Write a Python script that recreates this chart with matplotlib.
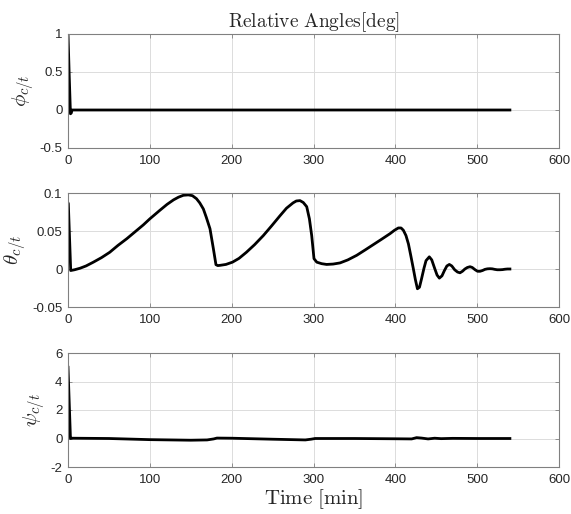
import matplotlib
matplotlib.use("Agg")
import matplotlib.pyplot as plt

# ---- data ----
t_phi = [0, 1.5, 3, 4, 5, 8, 100, 200, 300, 400, 540]
phi = [1.0, 0.45, -0.05, -0.04, 0.0, 0.0, 0.0, 0.0, 0.0, 0.0, 0.0]

t_theta = [0, 0.4, 3.3, 8, 14.7, 22, 31, 41, 51, 61, 72, 82, 92, 100, 112, 121, 129, 135,
           141, 147, 152, 157, 161, 165.4, 169, 173.5, 177.6, 180.8, 183, 185.7, 193, 201,
           209, 218, 228, 238.7, 249, 259, 267, 275, 279, 283.5, 287.5, 291.7, 295, 297.8,
           300.6, 304, 310, 316, 324, 332.4, 342, 352.8, 363, 373, 383, 393.5, 399, 403.7,
           407, 409.8, 413, 416, 419, 422, 424.5, 427, 429.5, 432, 435, 437.5, 441.5, 444.5,
           448, 451, 453.8, 457, 460, 463, 466, 469, 472.5, 476, 479, 482, 485, 488, 491.3,
           494, 497.5, 500.5, 503.5, 506.5, 509.5, 512.5, 515.7, 518.5, 521.5, 524.5, 528,
           531, 534, 537, 540]
theta = [0.087, 0.086, -0.002, -0.001, 0.001, 0.004, 0.009, 0.015, 0.022, 0.031, 0.040,
         0.049, 0.058, 0.066, 0.077, 0.085, 0.091, 0.0945, 0.097, 0.0975, 0.0965, 0.0925,
         0.087, 0.079, 0.068, 0.053, 0.027, 0.0057, 0.0045, 0.0048, 0.006, 0.009, 0.014,
         0.022, 0.032, 0.044, 0.057, 0.070, 0.080, 0.087, 0.0895, 0.090, 0.0875, 0.082,
         0.066, 0.044, 0.0136, 0.009, 0.007, 0.006, 0.0065, 0.008, 0.012, 0.018, 0.025,
         0.032, 0.039, 0.0465, 0.051, 0.054, 0.054, 0.051, 0.044, 0.033, 0.017, 0.0004,
         -0.014, -0.026, -0.024, -0.013, 0.001, 0.011, 0.016, 0.012, 0.001, -0.008, -0.012,
         -0.009, -0.002, 0.004, 0.006, 0.004, -0.001, -0.004, -0.005, -0.003, 0.000,
         0.002, 0.003, 0.002, -0.001, -0.003, -0.003, -0.002, -0.0005, 0.0002, 0.0004,
         0.0002, -0.0005, -0.001, -0.001, -0.0008, -0.0003, 0.0, 0.0]

t_psi = [0, 1.5, 3, 5, 50, 100, 150, 170, 178, 182, 200, 250, 290, 297, 302, 350, 400,
         420, 426, 432, 440, 448, 456, 470, 500, 540]
psi = [5.0, 2.5, 0.0, 0.02, 0.0, -0.08, -0.12, -0.1, -0.03, 0.03, 0.02, -0.05, -0.1,
       -0.05, 0.0, 0.0, -0.02, -0.03, 0.06, 0.03, -0.03, 0.02, -0.01, 0.01, 0.0, 0.0]

xticks = [0, 100, 200, 300, 400, 500, 600]
yticks_phi = [-0.5, 0, 0.5, 1]
yticks_theta = [-0.05, 0, 0.05, 0.1]
yticks_psi = [-2, 0, 2, 4, 6]
ylabels = [r"$\phi_{c/t}$", r"$\theta_{c/t}$", r"$\psi_{c/t}$"]

plt.rcParams["mathtext.fontset"] = "cm"
plt.rcParams["font.family"] = ["Liberation Sans", "DejaVu Sans"]

fig = plt.figure(figsize=(5.71, 5.14), dpi=100)
left, width, height = 68 / 571, 491 / 571, 114 / 514
bottoms = [1 - 148 / 514, 1 - 307 / 514, 1 - 467 / 514]

series = [(t_phi, phi, yticks_phi), (t_theta, theta, yticks_theta), (t_psi, psi, yticks_psi)]
edge = "#262626"
for i, (tt, yy, yt) in enumerate(series):
    ax = fig.add_axes([left, bottoms[i], width, height])
    ax.plot(tt, yy, color="black", lw=2.0, solid_joinstyle="round")
    ax.set_xlim(0, 600)
    ax.set_ylim(yt[0], yt[-1])
    ax.set_xticks(xticks)
    ax.set_xticklabels([str(v) for v in xticks])
    ax.set_yticks(yt)
    ax.set_yticklabels([("%g" % v) for v in yt])
    ax.grid(True, color="#dcdcdc", lw=0.7)
    ax.set_axisbelow(True)
    for s in ax.spines.values():
        s.set_color("#808080")
        s.set_linewidth(0.8)
    ax.tick_params(direction="in", length=3, width=0.6, colors="#808080",
                   labelcolor=edge, labelsize=9.5, pad=4, top=True, right=True)
    ax.tick_params(axis="x", pad=5)
    ax.set_ylabel(ylabels[i], fontsize=15, color=edge, labelpad=2)
    if i == 0:
        ax.set_title(r"$\mathrm{Relative\ Angles[deg]}$", fontsize=14, color=edge, pad=5)
    if i == 2:
        ax.set_xlabel(r"$\mathrm{Time\ [min]}$", fontsize=15, color=edge, labelpad=1)

fig.savefig("out.png", dpi=100)
